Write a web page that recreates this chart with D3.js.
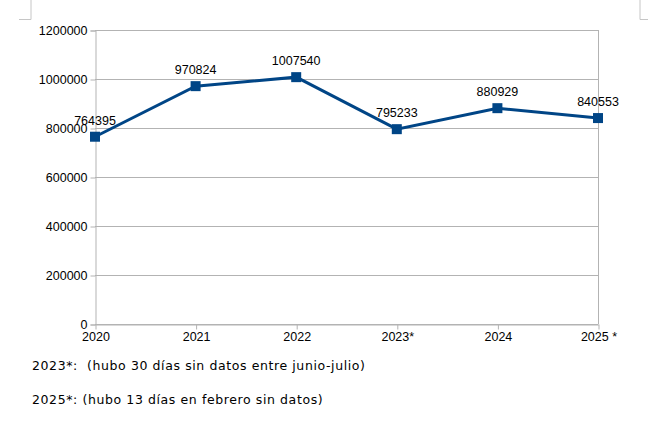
<!DOCTYPE html>
<html>
<head>
  <script src="https://d3js.org/d3.v7.min.js"></script>
  <style>
    body { margin: 0; background: #fff; }
    text { font-family: "Liberation Sans", Arial, sans-serif; }
  </style>
</head>
<body>
  <div id="chart"></div>
  <script>
    // Chart data
    const years = ["2020", "2021", "2022", "2023*", "2024", "2025 *"];
    const values = [764395, 970824, 1007540, 795233, 880929, 840553];
    const yTicks = [0, 200000, 400000, 600000, 800000, 1000000, 1200000];
    const notes = [
      "2023*:  (hubo 30 días sin datos entre junio-julio)",
      "2025*: (hubo 13 días en febrero sin datos)"
    ];

    const W = 648, H = 441;
    const margin = { top: 30, right: 50, bottom: 117, left: 95 };
    const width = W - margin.left - margin.right;
    const height = H - margin.top - margin.bottom;

    const svgRoot = d3.select("#chart")
      .append("svg")
      .attr("width", W)
      .attr("height", H);

    // page corner marks
    svgRoot.append("path")
      .attr("d", "M31,0V19.5H19 M640,0V19.5H648")
      .attr("fill", "none")
      .attr("stroke", "#c6c6c6")
      .attr("stroke-width", 1);

    const svg = svgRoot.append("g")
      .attr("transform", `translate(${margin.left},${margin.top})`);

    const x = d3.scalePoint()
      .domain(years)
      .range([0, width]);

    const y = d3.scaleLinear()
      .domain([0, 1200000])
      .range([height, 0]);

    // horizontal gridlines
    svg.append("g")
      .selectAll("line")
      .data(yTicks)
      .enter()
      .append("line")
      .attr("x1", 0)
      .attr("x2", width)
      .attr("y1", d => y(d) + 0.5)
      .attr("y2", d => y(d) + 0.5)
      .attr("stroke", "#b3b3b3");

    // right frame line
    svg.append("line")
      .attr("x1", width + 0.5).attr("x2", width + 0.5)
      .attr("y1", 0).attr("y2", height)
      .attr("stroke", "#b3b3b3");

    // y axis
    const yAxis = svg.append("g")
      .attr("transform", "translate(0.5,0.5)")
      .call(d3.axisLeft(y).tickValues(yTicks).tickFormat(d3.format("d")).tickSize(5).tickPadding(3));
    yAxis.select(".domain").attr("stroke", "#b3b3b3");
    yAxis.selectAll(".tick line").attr("stroke", "#b3b3b3");
    yAxis.selectAll("text")
      .attr("fill", "#000")
      .style("font-size", "12.5px")
      .style("font-family", "Liberation Sans, Arial, sans-serif");

    // x axis
    const xAxis = svg.append("g")
      .attr("transform", `translate(0.5,${height + 0.5})`)
      .call(d3.axisBottom(x).tickSize(5).tickPadding(3).tickSizeOuter(0));
    xAxis.select(".domain").attr("stroke", "#b3b3b3");
    xAxis.selectAll(".tick line").attr("stroke", "#b3b3b3");
    xAxis.selectAll("text")
      .attr("fill", "#000")
      .style("font-size", "12.5px")
      .style("font-family", "Liberation Sans, Arial, sans-serif");

    const points = years.map((yr, i) => ({ year: yr, value: values[i] }));

    // line
    svg.append("path")
      .datum(points)
      .attr("fill", "none")
      .attr("stroke", "#004586")
      .attr("stroke-width", 3)
      .attr("d", d3.line().x(d => x(d.year)).y(d => y(d.value)));

    // square markers
    svg.selectAll(".marker")
      .data(points)
      .enter()
      .append("rect")
      .attr("class", "marker")
      .attr("x", d => x(d.year) - 5)
      .attr("y", d => y(d.value) - 5)
      .attr("width", 10)
      .attr("height", 10)
      .attr("fill", "#004586");

    // value labels
    svg.selectAll(".label")
      .data(points)
      .enter()
      .append("text")
      .attr("class", "label")
      .attr("x", d => x(d.year))
      .attr("y", d => y(d.value) - 12)
      .attr("text-anchor", "middle")
      .style("font-size", "12.5px")
      .text(d => d.value);

    // footnotes
    svgRoot.selectAll(".note")
      .data(notes)
      .enter()
      .append("text")
      .attr("class", "note")
      .attr("x", 32)
      .attr("y", (d, i) => 370 + i * 34)
      .style("font-family", "DejaVu Sans, sans-serif")
      .style("font-size", "12.5px")
      .style("letter-spacing", "0.6px")
      .attr("xml:space", "preserve")
      .style("white-space", "pre")
      .text(d => d);
  </script>
</body>
</html>
